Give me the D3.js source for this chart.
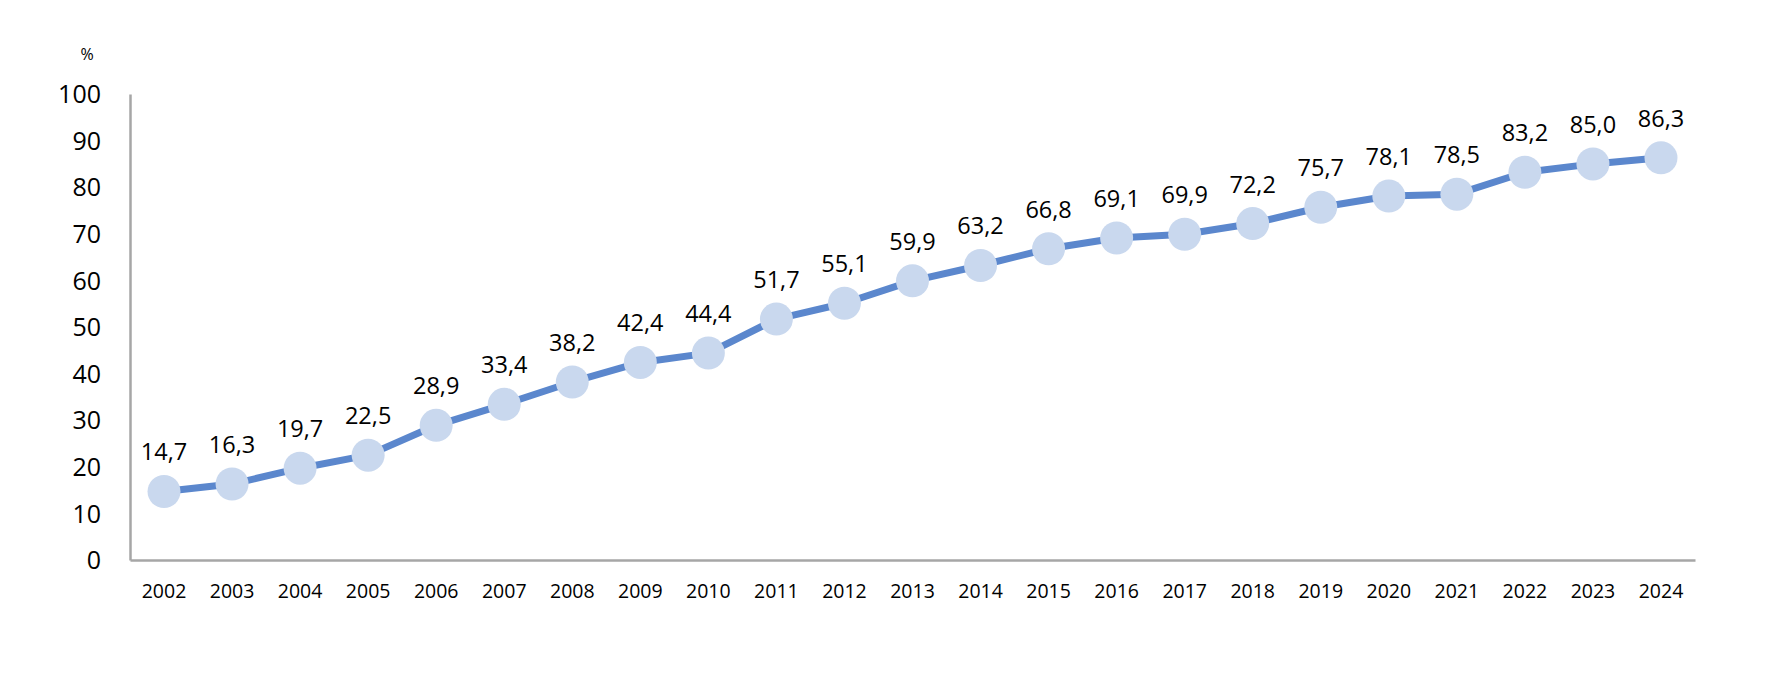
<!DOCTYPE html>
<html>
<head>
<meta charset="utf-8">
<script src="https://cdn.jsdelivr.net/npm/d3@7"></script>
<style>
  body { margin: 0; background: #fff; }
  text { font-family: "Open Sans", Lato, sans-serif; fill: #000; }
</style>
</head>
<body>
<svg id="chart"></svg>
<script>
var years = ["2002","2003","2004","2005","2006","2007","2008","2009","2010","2011","2012",
  "2013","2014","2015","2016","2017","2018","2019","2020","2021","2022","2023","2024"];
var values = [14.7,16.3,19.7,22.5,28.9,33.4,38.2,42.4,44.4,51.7,55.1,
  59.9,63.2,66.8,69.1,69.9,72.2,75.7,78.1,78.5,83.2,85.0,86.3];
var yTicks = [0,10,20,30,40,50,60,70,80,90,100];
var unitLabel = "%";

var width = 1784, height = 676;
var margin = {left: 130, right: 89, top: 94, bottom: 116};

var svg = d3.select("#chart").attr("width", width).attr("height", height);

var x = d3.scaleBand()
  .domain(years)
  .range([margin.left, width - margin.right]);

var y = d3.scaleLinear()
  .domain([0, 100])
  .range([height - margin.bottom, margin.top]);

var fmt = function(v) { return d3.format(".1f")(v).replace(".", ","); };

// y axis
var yAxis = svg.append("g")
  .attr("transform", "translate(" + margin.left + ",0)")
  .call(d3.axisLeft(y).tickValues(yTicks).tickSize(0).tickPadding(29));
yAxis.select(".domain").attr("stroke", "#a6a6a6").attr("stroke-width", 2.5);
yAxis.selectAll("text").style("font-size", "25px").attr("dy", "0.35em");

// x axis
var xAxis = svg.append("g")
  .attr("transform", "translate(0," + (height - margin.bottom) + ")")
  .call(d3.axisBottom(x).tickSize(0).tickPadding(24));
xAxis.select(".domain").attr("stroke", "#a6a6a6").attr("stroke-width", 2.5);
xAxis.selectAll("text").style("font-size", "19.5px");

svg.append("text")
  .attr("x", 87).attr("y", 60)
  .attr("text-anchor", "middle")
  .style("font-size", "16px")
  .text(unitLabel);

var cx = function(d, i) { return x(years[i]) + x.bandwidth() / 2; };

var line = d3.line()
  .x(cx)
  .y(function(d) { return y(d); });

svg.append("path")
  .datum(values)
  .attr("fill", "none")
  .attr("stroke", "#5b87cd")
  .attr("stroke-width", 7)
  .attr("stroke-linejoin", "round")
  .attr("d", line);

svg.selectAll("circle.pt")
  .data(values)
  .enter().append("circle")
  .attr("class", "pt")
  .attr("cx", cx)
  .attr("cy", function(d) { return y(d); })
  .attr("r", 16.5)
  .attr("fill", "#c9d8ee");

svg.selectAll("text.lbl")
  .data(values)
  .enter().append("text")
  .attr("class", "lbl")
  .attr("x", cx)
  .attr("y", function(d) { return y(d) - 31; })
  .attr("text-anchor", "middle")
  .style("font-size", "23.5px")
  .text(fmt);
</script>
</body>
</html>
